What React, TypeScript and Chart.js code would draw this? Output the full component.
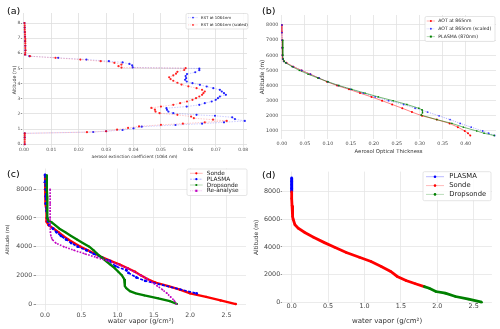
import React, { useEffect, useRef } from "react";
import { Chart, registerables } from "chart.js";

Chart.register(...registerables);

const FONT = "'DejaVu Sans', sans-serif";
Chart.defaults.font.family = FONT;

// ---------- Panel (a): aerosol extinction coefficient ----------
const altA_blue = [8.0, 7.7, 7.4, 7.1, 6.8, 6.5, 6.2, 5.92, 5.81, 5.70, 5.59, 5.48, 5.40, 5.30, 5.20, 5.07, 5.00, 4.89, 4.75, 4.63, 4.50, 4.36, 4.25, 4.14, 4.03, 3.92, 3.81, 3.70, 3.59, 3.48, 3.37, 3.26, 3.15, 3.04, 2.93, 2.82, 2.71, 2.60, 2.49, 2.38, 2.27, 2.16, 2.05, 1.94, 1.88, 1.78, 1.66, 1.54, 1.45, 1.36, 1.27, 1.16, 1.05, 0.94, 0.86, 0.81, 0.72, 0.45, 0.0];
const extA_blue = [0.0002, 0.0003, 0.0003, 0.0004, 0.0004, 0.0005, 0.0005, 0.0004, 0.0020, 0.0125, 0.0228, 0.0310, 0.0360, 0.0385, 0.0395, 0.0397, 0.0640, 0.0640, 0.0625, 0.0595, 0.0590, 0.0592, 0.0588, 0.0594, 0.0615, 0.0642, 0.0667, 0.0691, 0.0715, 0.0722, 0.0730, 0.0737, 0.0715, 0.0708, 0.0700, 0.0685, 0.0660, 0.0640, 0.0594, 0.0520, 0.0522, 0.0527, 0.0545, 0.0630, 0.0697, 0.0760, 0.0770, 0.0806, 0.0730, 0.0650, 0.0553, 0.0430, 0.0400, 0.0360, 0.0300, 0.0253, 0.0003, 0.0003, 0.0003];
const altA_red = [8.0, 7.85, 7.7, 7.55, 7.4, 7.25, 7.1, 6.95, 6.8, 6.65, 6.5, 6.35, 6.2, 6.05, 5.92, 5.81, 5.70, 5.59, 5.48, 5.37, 5.26, 5.15, 5.06, 5.02, 4.90, 4.78, 4.66, 4.54, 4.42, 4.30, 4.19, 4.06, 3.94, 3.82, 3.70, 3.59, 3.48, 3.37, 3.26, 3.15, 3.04, 2.93, 2.82, 2.71, 2.60, 2.49, 2.40, 2.28, 2.16, 2.05, 1.94, 1.83, 1.72, 1.62, 1.54, 1.45, 1.36, 1.28, 1.18, 1.08, 0.96, 0.86, 0.80, 0.72, 0.60, 0.45, 0.30, 0.15, 0.0];
const extA_red = [0.0002, 0.0003, 0.0003, 0.0003, 0.0004, 0.0004, 0.0004, 0.0005, 0.0005, 0.0005, 0.0005, 0.0005, 0.0006, 0.0005, 0.0004, 0.0022, 0.0115, 0.0206, 0.0280, 0.0330, 0.0356, 0.0345, 0.0356, 0.0590, 0.0585, 0.0560, 0.0555, 0.0545, 0.0530, 0.0535, 0.0545, 0.0560, 0.0575, 0.0600, 0.0630, 0.0650, 0.0660, 0.0655, 0.0650, 0.0640, 0.0628, 0.0615, 0.0595, 0.0570, 0.0545, 0.0500, 0.0465, 0.0478, 0.0480, 0.0495, 0.0560, 0.0610, 0.0620, 0.0690, 0.0740, 0.0660, 0.0580, 0.0500, 0.0420, 0.0380, 0.0340, 0.0300, 0.0230, 0.0003, 0.0003, 0.0003, 0.0003, 0.0003, 0.0003];
const ticksA_x = [0, 0.01, 0.02, 0.03, 0.04, 0.05, 0.06, 0.07, 0.08];
const ticksA_y = [0, 1, 2, 3, 4, 5, 6, 7, 8];

// ---------- Panel (b): aerosol optical thickness ----------
const altB = [8000, 7500, 7000, 6500, 6000, 5750, 5600, 5500, 5250, 5000, 4750, 4500, 4250, 4000, 3750, 3500, 3250, 3000, 2750, 2500, 2250, 2000, 1750, 1500, 1250, 1000, 850, 700];
const aotB_red = [0.000, 0.000, 0.0005, 0.0005, 0.001, 0.002, 0.004, 0.010, 0.025, 0.043, 0.062, 0.080, 0.098, 0.120, 0.146, 0.170, 0.195, 0.218, 0.240, 0.262, 0.283, 0.305, 0.337, 0.365, 0.383, 0.398, 0.405, 0.410];
const aotB_blue = [0.000, 0.000, 0.0005, 0.0005, 0.001, 0.002, 0.004, 0.009, 0.024, 0.043, 0.062, 0.081, 0.100, 0.123, 0.150, 0.177, 0.203, 0.232, 0.265, 0.290, 0.317, 0.342, 0.366, 0.388, 0.412, 0.437, 0.450, 0.463];
const altB_green = [7000, 6500, 6000, 5750, 5600, 5500, 5250, 5000, 4750, 4500, 4250, 4000, 3750, 3500, 3250, 3000, 2750, 2500, 2400, 2200, 2050, 1750, 1500, 1250, 1000, 850, 700];
const aotB_green = [0.002, 0.002, 0.002, 0.003, 0.005, 0.008, 0.022, 0.038, 0.057, 0.078, 0.100, 0.124, 0.152, 0.181, 0.210, 0.242, 0.272, 0.298, 0.305, 0.306, 0.303, 0.337, 0.370, 0.395, 0.424, 0.440, 0.462];
const ticksB_x = [0, 0.05, 0.1, 0.15, 0.2, 0.25, 0.3, 0.35, 0.4];
const ticksB_y = [1000, 2000, 3000, 4000, 5000, 6000, 7000, 8000];

// ---------- Panel (c): water vapor, all sources ----------
const altC_sonde = [9000, 8500, 8000, 7500, 7000, 6500, 6000, 5750, 5500, 5250, 5000, 4750, 4500, 4250, 4000, 3750, 3500, 3250, 3000, 2750, 2500, 2250, 2000, 1750, 1500, 1250, 1000, 750, 500, 250, 0];
const wvC_sonde = [0.00, 0.00, 0.00, 0.01, 0.01, 0.02, 0.02, 0.02, 0.05, 0.12, 0.19, 0.25, 0.32, 0.40, 0.49, 0.59, 0.69, 0.79, 0.91, 1.03, 1.14, 1.24, 1.32, 1.41, 1.52, 1.70, 1.86, 2.00, 2.22, 2.42, 2.63];
const altC_plasma = [9000, 8500, 8000, 7500, 7000, 6500, 6000, 5750, 5500, 5250, 5000, 4750, 4500, 4250, 4000, 3750, 3500, 3250, 3000, 2640, 2360, 2170, 1850, 1620, 740];
const wvC_plasma = [0.00, 0.00, 0.01, 0.01, 0.01, 0.02, 0.03, 0.04, 0.06, 0.11, 0.16, 0.22, 0.29, 0.36, 0.45, 0.57, 0.67, 0.78, 0.89, 0.97, 1.12, 1.15, 1.26, 1.38, 2.09];
const altC_drop = [9000, 8500, 8000, 7500, 7000, 6500, 6000, 5800, 5700, 5500, 5250, 5000, 4750, 4500, 4250, 4000, 3750, 3500, 3250, 3000, 2750, 2500, 2250, 2000, 1750, 1500, 1250, 1100, 900, 750, 600, 400, 200, 0];
const wvC_drop = [0.025, 0.025, 0.025, 0.03, 0.03, 0.03, 0.035, 0.05, 0.09, 0.14, 0.20, 0.28, 0.36, 0.44, 0.52, 0.61, 0.67, 0.72, 0.78, 0.84, 0.90, 0.96, 1.01, 1.06, 1.09, 1.10, 1.10, 1.12, 1.17, 1.25, 1.37, 1.56, 1.72, 1.82];
const altC_rean = [8000, 7500, 7000, 6500, 6000, 5500, 5000, 4750, 4500, 4250, 4000, 3750, 3500, 3250, 3000, 2750, 2500, 2250, 2000, 1750, 1500, 1250, 1000, 750, 500, 250, 0];
const wvC_rean = [0.07, 0.07, 0.07, 0.07, 0.07, 0.07, 0.075, 0.08, 0.10, 0.15, 0.26, 0.40, 0.55, 0.71, 0.87, 1.01, 1.13, 1.23, 1.32, 1.41, 1.48, 1.55, 1.62, 1.68, 1.73, 1.78, 1.81];
const ticksC_x = [0, 0.5, 1.0, 1.5, 2.0, 2.5];
const ticksC_y = [0, 2000, 4000, 6000, 8000];

// ---------- Panel (d): water vapor, merged profile ----------
const altD_plasma = [9000, 8750, 8500, 8250, 8000];
const wvD_plasma = [0.00, 0.00, 0.00, 0.00, 0.00];
const altD_sonde = [8000, 7500, 7000, 6500, 6200, 6000, 5600, 5350, 5040, 4700, 4310, 3980, 3590, 3250, 2940, 2580, 2220, 1860, 1570, 1330, 1130];
const wvD_sonde = [0.00, 0.00, 0.005, 0.01, 0.015, 0.02, 0.045, 0.09, 0.18, 0.30, 0.45, 0.59, 0.75, 0.93, 1.09, 1.23, 1.36, 1.45, 1.57, 1.70, 1.82];
const altD_drop = [1130, 1010, 770, 650, 410, 220, 0];
const wvD_drop = [1.82, 1.89, 1.98, 2.11, 2.25, 2.43, 2.61];
const ticksD_x = [0, 0.5, 1.0, 1.5, 2.0, 2.5];
const ticksD_y = [0, 2000, 4000, 6000, 8000];

type Ser = {
  label: string; xs: number[]; ys: number[];
  line: string; point: string; lw: number; dash?: number[]; r: number; style?: string;
  legLine: string; legLw: number;
};
type LegendSpec = { x: number; y: number; w: number; h: number; font: number; rows: number[]; s1: number; s2: number; tx: number; mr: number };
type Panel = {
  box: number[]; area: number[];
  xr: number[]; yr: number[]; xt: number[]; yt: number[]; xd: number; yd: number;
  tickFont: number; tickColor: string; grid: string;
  xTitle: string; yTitle: string; xTitleFont: number; yTitleFont: number;
  xTitleCY: number; yTitleCX: number; xLabelCY: number; yLabelR: number; yTickLen: number;
  series: Ser[]; legend: LegendSpec;
};

const panels: Panel[] = [
  {
    box: [0, 0, 250, 165], area: [22, 13, 247, 147],
    xr: [-0.0007, 0.0814], yr: [-0.18, 8.66], xt: ticksA_x, yt: ticksA_y, xd: 2, yd: 0,
    tickFont: 4.5, tickColor: "#555", grid: "#dedede",
    xTitle: "aerosol extinction coefficient (1064 nm)", yTitle: "Altitude (m)", xTitleFont: 4.3, yTitleFont: 4.8,
    xTitleCY: 156.7, yTitleCX: 15, xLabelCY: 150, yLabelR: 20.3, yTickLen: 1.2,
    series: [
      { label: "EXT at 1064nm", xs: extA_blue, ys: altA_blue, line: "rgba(70,70,255,0.35)", point: "rgba(0,0,255,0.85)", lw: 0.8, dash: [1.5, 1.2], r: 1.1, legLine: "rgba(70,70,255,0.35)", legLw: 0.6 },
      { label: "EXT at 1064nm (scaled)", xs: extA_red, ys: altA_red, line: "rgba(255,60,60,0.35)", point: "rgba(255,0,0,0.85)", lw: 0.8, dash: [1.5, 1.2], r: 1.1, legLine: "rgba(255,60,60,0.35)", legLw: 0.6 },
    ],
    legend: { x: 186, y: 13.5, w: 62, h: 15.5, font: 3.9, rows: [17.6, 24.9], s1: 188, s2: 198, tx: 201, mr: 0.9 },
  },
  {
    box: [250, 0, 250, 165], area: [281, 15, 496, 139],
    xr: [-0.002, 0.466], yr: [470, 8660], xt: ticksB_x, yt: ticksB_y, xd: 2, yd: 0,
    tickFont: 4.8, tickColor: "#444", grid: "#e2e2e2",
    xTitle: "Aerosol Optical Thickness", yTitle: "Altitude (m)", xTitleFont: 5.3, yTitleFont: 5.8,
    xTitleCY: 151.7, yTitleCX: 262, xLabelCY: 143.3, yLabelR: 278.3, yTickLen: 0,
    series: [
      { label: "AOT at 865nm", xs: aotB_red, ys: altB, line: "rgba(255,0,0,0.55)", point: "#ff0000", lw: 0.9, r: 1.0, legLine: "rgba(255,0,0,0.5)", legLw: 0.6 },
      { label: "AOT at 865nm (scaled)", xs: aotB_blue, ys: altB, line: "rgba(60,60,255,0.45)", point: "rgba(40,40,255,0.9)", lw: 0.9, dash: [1.2, 1.2], r: 0.9, legLine: "rgba(60,60,255,0.4)", legLw: 0.6 },
      { label: "PLASMA (870nm)", xs: aotB_green, ys: altB_green, line: "rgba(0,128,0,0.6)", point: "#008000", lw: 0.9, r: 1.0, style: "rect", legLine: "rgba(0,128,0,0.5)", legLw: 0.6 },
    ],
    legend: { x: 425, y: 16.5, w: 70, h: 25, font: 4.6, rows: [21, 28.8, 36.6], s1: 426.7, s2: 435, tx: 438.3, mr: 1.0 },
  },
  {
    box: [0, 165, 250, 164], area: [35.6, 168.5, 246, 310.5],
    xr: [-0.13, 2.77], yr: [-450, 9450], xt: ticksC_x, yt: ticksC_y, xd: 1, yd: 0,
    tickFont: 6.2, tickColor: "#444", grid: "#e6e6e6",
    xTitle: "water vapor (g/cm²)", yTitle: "Altitude (m)", xTitleFont: 6.6, yTitleFont: 5.0,
    xTitleCY: 321, yTitleCX: 7.3, xLabelCY: 315, yLabelR: 32.1, yTickLen: 2,
    series: [
      { label: "Sonde", xs: wvC_sonde, ys: altC_sonde, line: "#ff0000", point: "#ff0000", lw: 2.3, r: 1.2, legLine: "rgba(255,0,0,0.35)", legLw: 0.8 },
      { label: "PLASMA", xs: wvC_plasma, ys: altC_plasma, line: "#0000ff", point: "#0000ff", lw: 1.7, dash: [3, 1.5], r: 1.4, legLine: "rgba(0,0,255,0.35)", legLw: 0.8 },
      { label: "Dropsonde", xs: wvC_drop, ys: altC_drop, line: "#008000", point: "#008000", lw: 2.3, r: 1.0, legLine: "rgba(0,128,0,0.35)", legLw: 0.8 },
      { label: "Re-analyse", xs: wvC_rean, ys: altC_rean, line: "#c000c0", point: "#c000c0", lw: 1.6, dash: [1.6, 1.4], r: 1.0, style: "rect", legLine: "rgba(192,0,192,0.35)", legLw: 0.8 },
    ],
    legend: { x: 187, y: 169, w: 60, h: 26.5, font: 5.8, rows: [173.3, 179.2, 185, 190.8], s1: 190, s2: 202.7, tx: 206.7, mr: 1.1 },
  },
  {
    box: [250, 165, 250, 164], area: [282.2, 171.6, 491.9, 303],
    xr: [-0.13, 2.75], yr: [-60, 9450], xt: ticksD_x, yt: ticksD_y, xd: 1, yd: 0,
    tickFont: 6.4, tickColor: "#444", grid: "#e6e6e6",
    xTitle: "water vapor (g/cm²)", yTitle: "Altitude (m)", xTitleFont: 7, yTitleFont: 5.9,
    xTitleCY: 321, yTitleCX: 256.7, xLabelCY: 306.7, yLabelR: 280.2, yTickLen: 1.5,
    series: [
      { label: "PLASMA", xs: wvD_plasma, ys: altD_plasma, line: "#0000ff", point: "#0000ff", lw: 3, r: 1.3, legLine: "rgba(0,0,255,0.35)", legLw: 0.8 },
      { label: "Sonde", xs: wvD_sonde, ys: altD_sonde, line: "#ff0000", point: "#ff0000", lw: 2.8, r: 1.2, legLine: "rgba(255,0,0,0.35)", legLw: 0.8 },
      { label: "Dropsonde", xs: wvD_drop, ys: altD_drop, line: "#008000", point: "#008000", lw: 2.8, r: 1.2, legLine: "rgba(0,128,0,0.35)", legLw: 0.8 },
    ],
    legend: { x: 423, y: 171.7, w: 68, h: 29, font: 6.8, rows: [176.7, 185.6, 194.4], s1: 426, s2: 444, tx: 449.3, mr: 1.3 },
  },
];

const panelLabels = [
  { text: "(a)", left: 7, top: 5.5 },
  { text: "(b)", left: 262, top: 5.5 },
  { text: "(c)", left: 7, top: 168.5 },
  { text: "(d)", left: 262, top: 169.5 },
];

function legendPlugin(p: Panel) {
  return {
    id: "customLegend",
    afterDraw(chart: any) {
      const ctx = chart.ctx as CanvasRenderingContext2D;
      const L = p.legend;
      const bl = p.box[0], bt = p.box[1];
      ctx.save();
      const x = L.x - bl, y = L.y - bt, w = L.w, h = L.h, r = 1.5;
      ctx.beginPath();
      ctx.moveTo(x + r, y);
      ctx.lineTo(x + w - r, y);
      ctx.quadraticCurveTo(x + w, y, x + w, y + r);
      ctx.lineTo(x + w, y + h - r);
      ctx.quadraticCurveTo(x + w, y + h, x + w - r, y + h);
      ctx.lineTo(x + r, y + h);
      ctx.quadraticCurveTo(x, y + h, x, y + h - r);
      ctx.lineTo(x, y + r);
      ctx.quadraticCurveTo(x, y, x + r, y);
      ctx.closePath();
      ctx.fillStyle = "rgba(255,255,255,0.85)";
      ctx.fill();
      ctx.strokeStyle = "#d4d4d4";
      ctx.lineWidth = 0.6;
      ctx.stroke();
      p.series.forEach((s, i) => {
        const ry = L.rows[i] - bt;
        ctx.setLineDash(s.dash ? s.dash.map((d) => d * 0.7) : []);
        ctx.strokeStyle = s.legLine;
        ctx.lineWidth = s.legLw;
        ctx.beginPath();
        ctx.moveTo(L.s1 - bl, ry);
        ctx.lineTo(L.s2 - bl, ry);
        ctx.stroke();
        ctx.setLineDash([]);
        ctx.fillStyle = s.point;
        const mx = (L.s1 + L.s2) / 2 - bl;
        if (s.style === "rect") {
          ctx.fillRect(mx - L.mr, ry - L.mr, 2 * L.mr, 2 * L.mr);
        } else {
          ctx.beginPath();
          ctx.arc(mx, ry, L.mr, 0, Math.PI * 2);
          ctx.fill();
        }
        ctx.fillStyle = "#222";
        ctx.font = `${L.font}px ${FONT}`;
        ctx.textBaseline = "middle";
        ctx.textAlign = "left";
        ctx.fillText(s.label, L.tx - bl, ry);
      });
      ctx.restore();
    },
  };
}

function makeConfig(p: Panel): any {
  const [bl, bt, bw, bh] = p.box;
  const [al, at, ar, ab] = p.area;
  const yW = al - bl;
  const xH = bt + bh - ab;
  const zeroPad = (sc: any) => {
    sc.paddingLeft = 0; sc.paddingRight = 0; sc.paddingTop = 0; sc.paddingBottom = 0;
  };
  return {
    type: "scatter",
    data: {
      datasets: p.series.map((s, i) => ({
        label: s.label,
        data: s.xs.map((x, k) => ({ x, y: s.ys[k] })),
        showLine: true,
        borderColor: s.line,
        borderWidth: s.lw,
        borderDash: s.dash || [],
        pointRadius: s.r,
        pointHoverRadius: s.r,
        pointBackgroundColor: s.point,
        pointBorderWidth: 0,
        pointStyle: s.style || "circle",
        order: p.series.length - i,
        tension: 0,
        clip: 4,
      })),
    },
    options: {
      responsive: false,
      maintainAspectRatio: false,
      animation: false,
      events: [],
      layout: { padding: { left: 0, top: at - bt, right: bl + bw - ar, bottom: 0 } },
      plugins: { legend: { display: false }, tooltip: { enabled: false } },
      scales: {
        x: {
          type: "linear",
          position: "bottom",
          min: p.xr[0],
          max: p.xr[1],
          grid: { color: p.grid, lineWidth: 0.8, drawTicks: false },
          border: { display: false },
          ticks: {
            font: { size: p.tickFont, family: FONT },
            color: p.tickColor,
            padding: Math.max(0, p.xLabelCY - ab - p.tickFont * 0.6),
            autoSkip: false,
            minRotation: 0,
            maxRotation: 0,
            callback: (v: any) => Number(v).toFixed(p.xd),
          },
          title: {
            display: true,
            text: p.xTitle,
            color: "#333",
            font: { size: p.xTitleFont, family: FONT },
            padding: { top: 0, bottom: bt + bh - p.xTitleCY - p.xTitleFont * 0.6 },
          },
          afterBuildTicks: (sc: any) => { sc.ticks = p.xt.map((v) => ({ value: v })); },
          afterFit: (sc: any) => { sc.height = xH; zeroPad(sc); },
        },
        y: {
          type: "linear",
          position: "left",
          min: p.yr[0],
          max: p.yr[1],
          grid: {
            color: p.grid,
            lineWidth: 0.8,
            drawTicks: p.yTickLen > 0,
            tickLength: p.yTickLen,
            tickColor: "#777",
          },
          border: { display: false },
          ticks: {
            font: { size: p.tickFont, family: FONT },
            color: p.tickColor,
            padding: al - p.yLabelR - p.yTickLen,
            autoSkip: false,
            callback: (v: any) => Number(v).toFixed(p.yd),
          },
          title: {
            display: true,
            text: p.yTitle,
            color: "#333",
            font: { size: p.yTitleFont, family: FONT },
            padding: { top: p.yTitleCX - bl - p.yTitleFont * 0.6, bottom: 0 },
          },
          afterBuildTicks: (sc: any) => { sc.ticks = p.yt.map((v) => ({ value: v })); },
          afterFit: (sc: any) => { sc.width = yW; zeroPad(sc); },
        },
      },
    },
    plugins: [legendPlugin(p)],
  };
}

function PanelChart({ p }: { p: Panel }) {
  const ref = useRef<HTMLCanvasElement | null>(null);
  useEffect(() => {
    if (!ref.current) return;
    const chart = new Chart(ref.current, makeConfig(p));
    return () => chart.destroy();
  }, [p]);
  return (
    <canvas
      ref={ref}
      width={p.box[2]}
      height={p.box[3]}
      style={{ position: "absolute", left: p.box[0], top: p.box[1], width: p.box[2], height: p.box[3] }}
    />
  );
}

export default function App() {
  return (
    <div style={{ position: "fixed", left: 0, top: 0, width: 500, height: 329, background: "#fff", overflow: "hidden" }}>
      {panels.map((p, i) => (
        <PanelChart key={i} p={p} />
      ))}
      {panelLabels.map((l) => (
        <div
          key={l.text}
          style={{ position: "absolute", left: l.left, top: l.top, fontFamily: FONT, fontSize: 9.5, lineHeight: 1, color: "#000" }}
        >
          {l.text}
        </div>
      ))}
    </div>
  );
}
